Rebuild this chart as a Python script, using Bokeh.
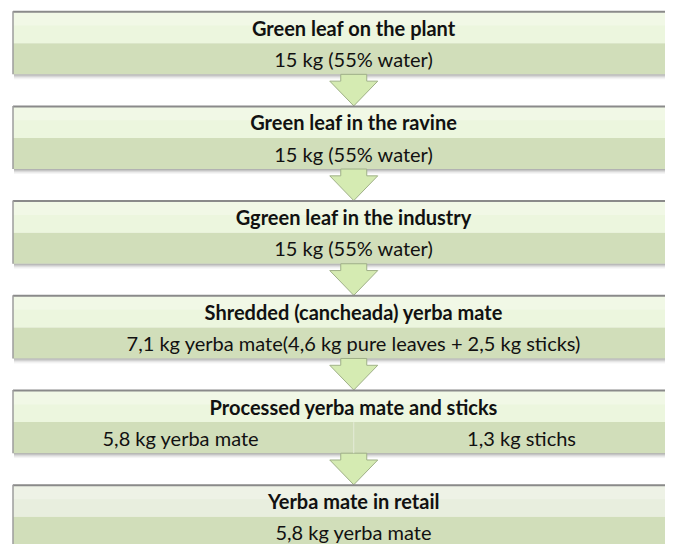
from bokeh.plotting import figure
from bokeh.models import Range1d, ColumnDataSource
from bokeh.embed import file_html
from bokeh.resources import INLINE
from bokeh.core.properties import value

# ---- data ----
stage_titles = [
    "Green leaf on the plant",
    "Green leaf in the ravine",
    "Ggreen leaf in the industry",
    "Shredded (cancheada) yerba mate",
    "Processed yerba mate and sticks",
    "Yerba mate in retail",
]
stage_values = [
    "15 kg (55% water)",
    "15 kg (55% water)",
    "15 kg (55% water)",
    "7,1 kg yerba mate(4,6 kg pure leaves + 2,5 kg sticks)",
    "",
    "5,8 kg yerba mate",
]
split_stage = 4
split_left = "5,8 kg  yerba mate"
split_right = "1,3 kg  stichs"

# ---- layout (pixel units) ----
W, H = 665, 544
S = H / 560.0  # vertical squeeze so the last box fits
BOX_L, BOX_R = 12.5, 694.0
CX = (BOX_L + BOX_R) / 2.0
TOP0, PITCH = 11.0 * S, 97.5 * S
TITLE_H, VALUE_H = 33.0 * S, 32.0 * S
BOX_H = TITLE_H + VALUE_H

p = figure(width=W, height=H, x_range=Range1d(0, W), y_range=Range1d(H, 0),
           output_backend="svg", toolbar_location=None, min_border=0)
p.axis.visible = False
p.grid.visible = False
p.outline_line_color = None
p.background_fill_color = "white"
p.border_fill_color = "white"

n = len(stage_titles)
tops = [TOP0 + i * PITCH for i in range(n)]

# title bands
title_cols = ["#ecf6de"] * (n - 1) + ["#e8eede"]
p.quad(left=[BOX_L] * n, right=[BOX_R] * n, top=tops, bottom=[t + TITLE_H for t in tops],
       fill_color=title_cols, line_color=None)
# lighter upper half of title band (soft gradient)
p.quad(left=[BOX_L] * n, right=[BOX_R] * n, top=tops, bottom=[t + TITLE_H * 0.45 for t in tops],
       fill_color="#ffffff", fill_alpha=0.25, line_color=None)
# value bands
p.quad(left=[BOX_L] * n, right=[BOX_R] * n, top=[t + TITLE_H for t in tops],
       bottom=[t + BOX_H for t in tops], fill_color="#d1deba", line_color=None)

# shadows under boxes
sh_alpha = [0.55, 0.4, 0.25, 0.13, 0.06]
for t in tops:
    b = t + BOX_H
    for k, a in enumerate(sh_alpha):
        p.segment(x0=[BOX_L + 1], x1=[BOX_R], y0=[b + k + 0.5], y1=[b + k + 0.5],
                  line_color="#6e6e6e", line_alpha=a, line_width=1)

# arrows
STEM, HEAD, HEAD_OFF = 13.0, 24.0, 7.0 * S
xs, ys = [], []
for i in range(n - 1):
    y0 = tops[i] + BOX_H
    hy = y0 + HEAD_OFF
    tip = tops[i + 1]
    xs.append([CX - STEM, CX + STEM, CX + STEM, CX + HEAD, CX, CX - HEAD, CX - STEM])
    ys.append([y0, y0, hy, hy, tip, hy, hy])
p.patches(xs=xs, ys=ys, fill_color="#d5ebb2", line_color="#9fb087", line_width=1)

# borders
for t in tops:
    p.segment(x0=[BOX_L], x1=[BOX_R], y0=[t + 0.5], y1=[t + 0.5], line_color="#8a8a8a", line_width=2)
    p.segment(x0=[BOX_L], x1=[BOX_L], y0=[t], y1=[t + BOX_H], line_color="#9c9c9c", line_width=1.5)

# divider in split stage
ts = tops[split_stage]
p.segment(x0=[CX], x1=[CX], y0=[ts + TITLE_H], y1=[ts + BOX_H], line_color="#e4ebd8", line_width=1)

# texts
font = value("Lato")
title_src = ColumnDataSource(dict(x=[CX] * n, y=[t + TITLE_H / 2 + 0.5 for t in tops], text=stage_titles))
p.text(x="x", y="y", text="text", source=title_src, text_font=font, text_font_size="20px",
       text_font_style="bold", text_align="center", text_baseline="middle", text_color="#111111")

vx, vy, vt = [], [], []
for i, t in enumerate(tops):
    yv = t + TITLE_H + VALUE_H / 2
    if i == split_stage:
        vx += [(BOX_L + CX) / 2, (CX + BOX_R) / 2]
        vy += [yv, yv]
        vt += [split_left, split_right]
    else:
        vx.append(CX); vy.append(yv); vt.append(stage_values[i])
val_src = ColumnDataSource(dict(x=vx, y=vy, text=vt))
p.text(x="x", y="y", text="text", source=val_src, text_font=font, text_font_size="20px",
       text_align="center", text_baseline="middle", text_color="#111111")

open("out.html", "w").write(file_html(p, INLINE))
